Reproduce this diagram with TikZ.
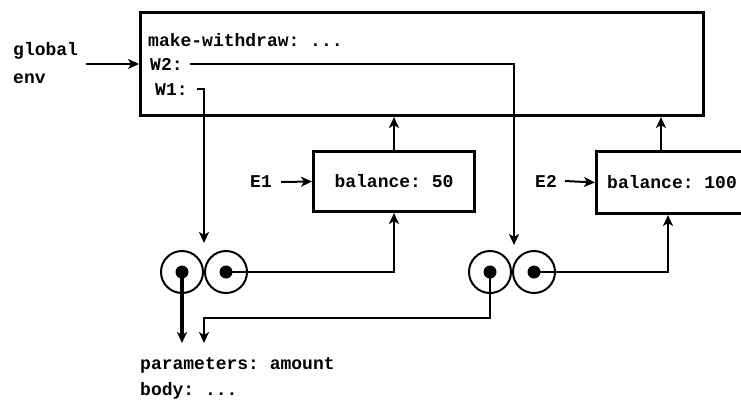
\documentclass[tikz,border=0pt]{standalone}
\usepackage{fontspec}
\setmonofont{Liberation Mono}
\usetikzlibrary{arrows.meta}

\tikzset{
  frame/.style={draw, line width=3pt, inner sep=0pt},
  lbl/.style={font=\ttfamily\bfseries\fontsize{18}{22}\selectfont, inner sep=0pt},
  ptr/.style={line width=2pt, -{Stealth[length=11pt, width=10pt, inset=3pt]}},
  cell/.style={draw, circle, line width=2pt, minimum size=42pt, inner sep=0pt},
  dot/.style={circle, fill, minimum size=13pt, inner sep=0pt},
}

\begin{document}
\begin{tikzpicture}[x=1pt, y=-1pt]
    \useasboundingbox (0,0) rectangle (741,402);
    \clip (0,0) rectangle (741,402);

    % global environment
    \node[frame, minimum width=563pt, minimum height=103pt, anchor=north west] (glob) at (139,11) {};
    \node[lbl, anchor=base west] (mw) at (148,46) {make-withdraw: ...};
    \node[lbl, anchor=base west] (w2) at (150,70) {W2:};
    \node[lbl, anchor=base west] (w1) at (155,95) {W1:};
    \node[lbl, anchor=base west] (genv) at (13,55) {global};
    \node[lbl, anchor=base west] (genv2) at (13,83) {env};
    \draw[ptr] ([xshift=8pt]genv.east |- w2.west) -- (glob.west |- w2.west);

    % frames E1 and E2
    \node[frame, lbl, minimum width=161pt, minimum height=60pt, anchor=north west] (e1) at (312,150) {balance: 50};
    \node[lbl, anchor=east] (e1lbl) at (272,182) {E1};
    \draw[ptr] ([xshift=9pt]e1lbl.east) -- (e1.west);
    \draw[ptr] (e1.north) -- (e1.north |- glob.south);

    \node[frame, minimum width=200pt, minimum height=62pt, anchor=north west] (e2) at (595,150) {};
    \node[lbl, anchor=west] (e2txt) at ([xshift=12pt]e2.west) {balance: 100};
    \node[lbl, anchor=east] (e2lbl) at (557,181) {E2};
    \draw[ptr] ([xshift=8pt]e2lbl.east) -- (e2.west);
    \draw[ptr] ([xshift=66pt]e2.north west) -- ([xshift=66pt]e2.north west |- glob.south);

    % procedure objects
    \node[cell] (c1a) at (182,272) {};
    \node[cell] (c1b) at (226,272) {};
    \node[dot] (d1a) at (c1a) {};
    \node[dot] (d1b) at (c1b) {};
    \node[cell] (c2a) at (490,272) {};
    \node[cell] (c2b) at (534,272) {};
    \node[dot] (d2a) at (c2a) {};
    \node[dot] (d2b) at (c2b) {};

    \coordinate (top1) at (204,243);
    \coordinate (top2) at (514,245);
    \draw[ptr] ([xshift=9pt]w1.east) -| (top1);
    \draw[ptr] ([xshift=7pt]w2.east) -| (top2);
    \draw[ptr] (d1b.center) -| (e1.south);
    \draw[ptr] (d2b.center) -| ([xshift=73pt]e2.south west);

    % shared code
    \node[lbl, anchor=base west] (params) at (140,369) {parameters: amount};
    \node[lbl, anchor=base west] (body) at (140,395) {body: ...};
    \coordinate (pin1) at (182,343);
    \coordinate (pin2) at (204,343);
    \draw[ptr, line width=4pt] (d1a.center) -- (pin1);
    \draw[ptr] (d2a.center) |- ([yshift=25pt]pin2) -- (pin2);
\end{tikzpicture}
\end{document}
